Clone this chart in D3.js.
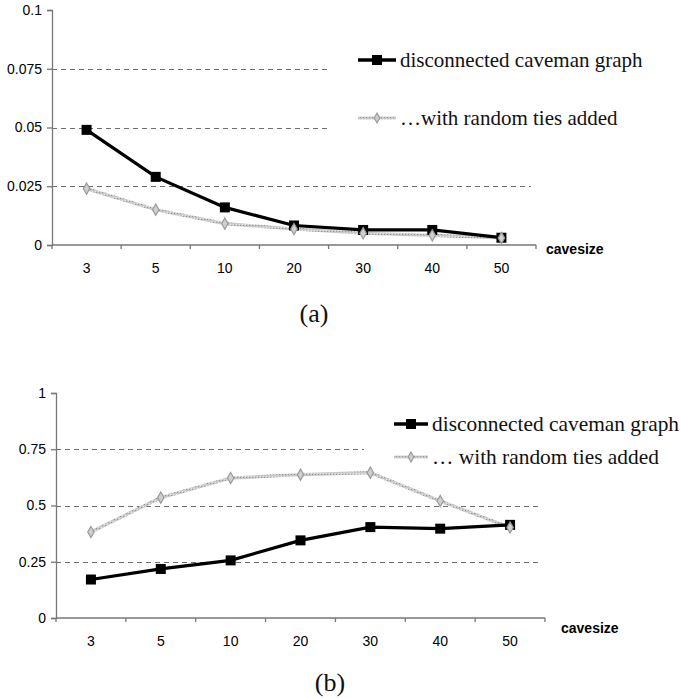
<!DOCTYPE html>
<html>
<head>
<meta charset="utf-8">
<script src="https://cdn.jsdelivr.net/npm/d3@7"></script>
<style>
  body { margin: 0; background: #fff; }
  svg { display: block; }
  .sans { font-family: "Liberation Sans", Arial, sans-serif; }
  .serif { font-family: "Liberation Serif", "Times New Roman", serif; }
</style>
</head>
<body>
<div id="chart"></div>
<script>
var width = 681,
    height = 698;

// cave sizes on the x axis
var caveSizes = ["3", "5", "10", "20", "30", "40", "50"];

// panel (a)
var aCaveman = [0.049, 0.029, 0.016, 0.0083, 0.0064, 0.0064, 0.0031];
var aRandom  = [0.024, 0.015, 0.0091, 0.0068, 0.005, 0.0041, 0.003];
var aTicks   = [0, 0.025, 0.05, 0.075, 0.1];
var aTickLabels = ["0", "0.025", "0.05", "0.075", "0.1"];

// panel (b)
var bCaveman = [0.171, 0.218, 0.256, 0.345, 0.404, 0.397, 0.414];
var bRandom  = [0.382, 0.535, 0.622, 0.637, 0.646, 0.52, 0.402];
var bTicks   = [0, 0.25, 0.5, 0.75, 1];
var bTickLabels = ["0", "0.25", "0.5", "0.75", "1"];

var legendNames = ["disconnected caveman graph", "\u2026with random ties added"];
var legendNamesB = ["disconnected caveman graph", "\u2026 with random ties added"];

var svg = d3.select("#chart").append("svg")
    .attr("width", width)
    .attr("height", height);

var defs = svg.append("defs");
// speckled texture for the grey line, like the scanned print
var pat = defs.append("pattern")
    .attr("id", "speck")
    .attr("width", 3).attr("height", 3)
    .attr("patternUnits", "userSpaceOnUse");
pat.append("rect").attr("width", 3).attr("height", 3).attr("fill", "#c8c8c8");
pat.append("rect").attr("width", 1).attr("height", 1).attr("fill", "#959595");
pat.append("rect").attr("x", 2).attr("y", 2).attr("width", 1).attr("height", 1).attr("fill", "#e8e8e8");

function drawPanel(opt) {
  var g = svg.append("g");

  var x = d3.scaleBand()
      .domain(caveSizes)
      .range([opt.left, opt.right])
      .padding(0);

  var y = d3.scaleLinear()
      .domain([0, opt.max])
      .range([opt.bottom, opt.top]);

  // dashed gridlines
  g.selectAll("line.grid")
    .data(opt.ticks.filter(function(d){ return d > 0 && d < opt.max; }))
    .enter().append("line")
    .attr("class", "grid")
    .attr("x1", opt.left)
    .attr("x2", opt.right - 5)
    .attr("y1", function(d){ return Math.round(y(d)) + 0.5; })
    .attr("y2", function(d){ return Math.round(y(d)) + 0.5; })
    .attr("stroke", "#6e6e6e")
    .attr("stroke-width", 1.2)
    .attr("stroke-dasharray", "5,4");

  // y axis
  var yAxis = d3.axisLeft(y)
      .tickValues(opt.ticks)
      .tickSize(5)
      .tickPadding(5)
      .tickFormat(function(d, i){ return opt.tickLabels[i]; });

  var ya = g.append("g")
      .attr("transform", "translate(" + opt.left + ",0)")
      .call(yAxis);
  ya.attr("font-family", null).attr("font-size", null);
  ya.select(".domain").attr("stroke", "#777").attr("stroke-width", 1.3);
  ya.selectAll(".tick line").attr("stroke", "#777").attr("stroke-width", 1.3);
  ya.selectAll("text")
    .attr("class", "sans")
    .style("font-size", "14px")
    .attr("fill", "#000");

  // x axis: ticks on the band edges, labels in the middle
  var edges = caveSizes.map(function(d){ return x(d); }).concat([opt.right]);
  g.append("line")
    .attr("x1", opt.left).attr("x2", opt.right)
    .attr("y1", opt.bottom).attr("y2", opt.bottom)
    .attr("stroke", "#777").attr("stroke-width", 1.3);
  g.selectAll("line.xtick")
    .data(edges)
    .enter().append("line")
    .attr("class", "xtick")
    .attr("x1", function(d){ return d; })
    .attr("x2", function(d){ return d; })
    .attr("y1", opt.bottom)
    .attr("y2", opt.bottom + 4)
    .attr("stroke", "#777").attr("stroke-width", 1.3);
  g.selectAll("text.xlab")
    .data(caveSizes)
    .enter().append("text")
    .attr("class", "xlab sans")
    .attr("x", function(d){ return x(d) + x.bandwidth() / 2; })
    .attr("y", opt.bottom + 28)
    .attr("text-anchor", "middle")
    .style("font-size", "14px")
    .attr("fill", "#000")
    .text(function(d){ return d; });

  g.append("text")
    .attr("class", "sans")
    .attr("x", opt.right + opt.unitDx)
    .attr("y", opt.bottom + opt.unitDy)
    .style("font-size", "14px")
    .attr("font-weight", "bold")
    .attr("fill", "#000")
    .text("cavesize");

  // legend box covers the gridlines behind it
  g.append("rect")
    .attr("x", opt.legX - 30)
    .attr("y", opt.legY - 25)
    .attr("width", width - opt.legX + 30)
    .attr("height", opt.legGap + 48)
    .attr("fill", "#fff");

  var cx = function(d, i){ return x(caveSizes[i]) + x.bandwidth() / 2; };
  var line = d3.line()
      .x(function(d, i){ return cx(d, i); })
      .y(function(d){ return y(d); });

  // grey series
  g.append("path")
    .datum(opt.random)
    .attr("d", line)
    .attr("fill", "none")
    .attr("stroke", "url(#speck)")
    .attr("stroke-width", 3.2);

  // black series
  g.append("path")
    .datum(opt.caveman)
    .attr("d", line)
    .attr("fill", "none")
    .attr("stroke", "#000")
    .attr("stroke-width", 3.2);

  g.selectAll("rect.sq")
    .data(opt.caveman)
    .enter().append("rect")
    .attr("class", "sq")
    .attr("x", function(d, i){ return cx(d, i) - 5; })
    .attr("y", function(d){ return y(d) - 5; })
    .attr("width", 10).attr("height", 10)
    .attr("fill", "#000");

  var diamond = d3.symbol().type(d3.symbolDiamond).size(36);
  g.selectAll("path.dia")
    .data(opt.random)
    .enter().append("path")
    .attr("class", "dia")
    .attr("d", diamond)
    .attr("transform", function(d, i){ return "translate(" + cx(d, i) + "," + y(d) + ")"; })
    .attr("fill", "#cfcfcf")
    .attr("stroke", "#9a9a9a")
    .attr("stroke-width", 1.2);

  // legend
  var leg = g.append("g");
  leg.append("line")
    .attr("x1", opt.legX).attr("x2", opt.legX + opt.legLen)
    .attr("y1", opt.legY).attr("y2", opt.legY)
    .attr("stroke", "#000").attr("stroke-width", 3.5);
  leg.append("rect")
    .attr("x", opt.legX + opt.legLen / 2 - 5)
    .attr("y", opt.legY - 5)
    .attr("width", 10).attr("height", 10)
    .attr("fill", "#000");
  leg.append("line")
    .attr("x1", opt.legX).attr("x2", opt.legX + opt.legLen)
    .attr("y1", opt.legY + opt.legGap).attr("y2", opt.legY + opt.legGap)
    .attr("stroke", "url(#speck)").attr("stroke-width", 3.2);
  leg.append("path")
    .attr("d", d3.symbol().type(d3.symbolDiamond).size(28))
    .attr("transform", "translate(" + (opt.legX + opt.legLen / 2) + "," + (opt.legY + opt.legGap) + ")")
    .attr("fill", "#cfcfcf")
    .attr("stroke", "#9a9a9a")
    .attr("stroke-width", 1.2);

  leg.selectAll("text")
    .data(opt.names)
    .enter().append("text")
    .attr("class", "serif")
    .attr("x", opt.legX + opt.legLen + 4)
    .attr("y", function(d, i){ return opt.legY + i * opt.legGap + 7; })
    .style("font-size", opt.legFont)
    .attr("fill", "#111")
    .text(function(d){ return d; });

  // caption
  g.append("text")
    .attr("class", "serif")
    .attr("x", opt.capX)
    .attr("y", opt.capY)
    .attr("text-anchor", "middle")
    .style("font-size", "26px")
    .attr("fill", "#111")
    .text(opt.caption);
}

drawPanel({
  left: 52, right: 536, top: 10, bottom: 245, max: 0.1,
  ticks: aTicks, tickLabels: aTickLabels,
  caveman: aCaveman, random: aRandom,
  names: legendNames,
  legX: 358, legY: 60, legGap: 58, legLen: 38, legFont: "21px",
  unitDx: 10, unitDy: 9,
  caption: "(a)", capX: 314, capY: 322
});

drawPanel({
  left: 56, right: 545, top: 393, bottom: 618, max: 1,
  ticks: bTicks, tickLabels: bTickLabels,
  caveman: bCaveman, random: bRandom,
  names: legendNamesB,
  legX: 394, legY: 424, legGap: 33, legLen: 34, legFont: "21.4px",
  unitDx: 16, unitDy: 15,
  caption: "(b)", capX: 330, capY: 691
});
</script>
</body>
</html>
